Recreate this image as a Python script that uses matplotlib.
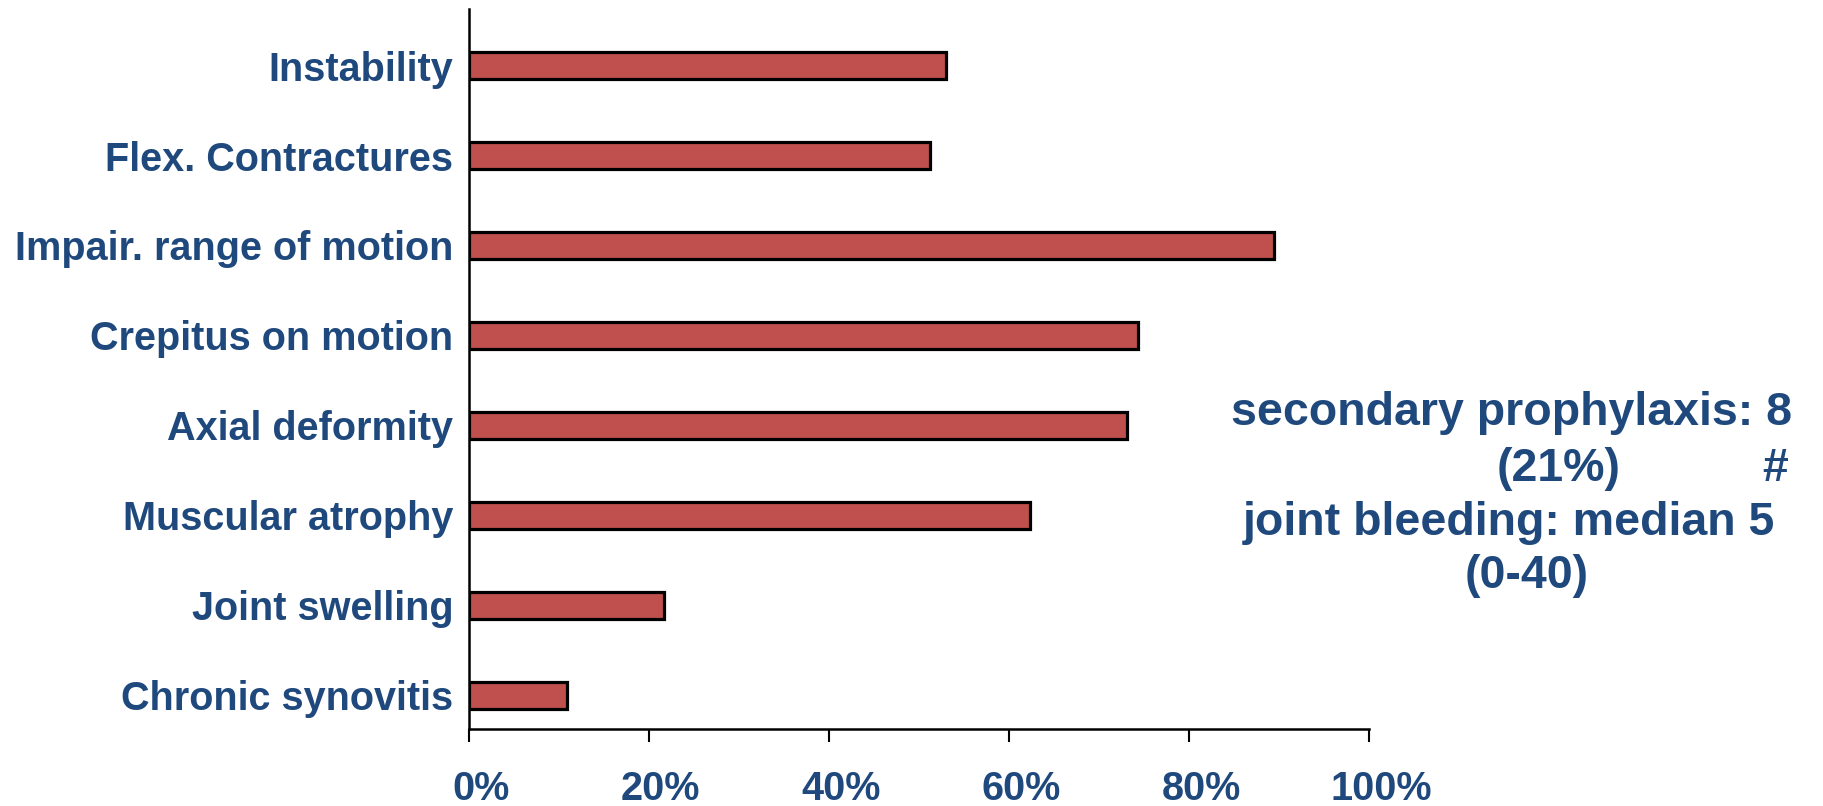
import matplotlib
matplotlib.use('Agg')
import matplotlib.pyplot as plt
import matplotlib.transforms as mtransforms
import numpy as np

# Data (bottom to top)
categories = ['Chronic synovitis', 'Joint swelling', 'Muscular atrophy',
              'Axial deformity', 'Crepitus on motion', 'Impair. range of motion',
              'Flex. Contractures', 'Instability']
values = [10.9, 21.7, 62.3, 73.1, 74.3, 89.5, 51.2, 53.0]
xticks = [0, 20, 40, 60, 80, 100]
xtick_labels = ['0%', '20%', '40%', '60%', '80%', '100%']
note_lines = ['secondary prophylaxis: 8', '(21%)', '#',
              'joint bleeding: median 5', '(0-40)']

BLUE = '#1F497D'
RED = '#C0504D'
plt.rcParams['font.family'] = ['Liberation Sans', 'DejaVu Sans']

fig = plt.figure(figsize=(18.24, 8.06), dpi=100)
ax = fig.add_axes([0.257, 0.0955, 0.4935, 0.8935])

y = np.arange(len(categories))
ax.barh(y, values, height=0.3, color=RED, edgecolor='black', linewidth=2.3)

ax.set_xlim(0, 100)
ax.set_ylim(-0.375, 7.63)
ax.set_yticks(y)
ax.set_yticklabels(categories, fontsize=28.5, fontweight='bold', color=BLUE)
ax.set_xticks(xticks)
ax.set_xticklabels(xtick_labels, fontsize=28.5, fontweight='bold', color=BLUE)
ax.tick_params(axis='y', length=0, pad=11)
ax.tick_params(axis='x', length=9.5, width=1.5, direction='out', pad=20)
# tick labels sit slightly right of their ticks in the original
offset = mtransforms.ScaledTranslation(12 / 100, 0, fig.dpi_scale_trans)
for lbl in ax.get_xticklabels():
    lbl.set_transform(lbl.get_transform() + offset)

for s in ['top', 'right']:
    ax.spines[s].set_visible(False)
ax.spines['left'].set_linewidth(1.8)
ax.spines['bottom'].set_linewidth(1.8)

# annotation block at right
kw = dict(fontsize=33.5, fontweight='bold', color=BLUE, va='center', ha='center')
fig.text(1299 / 1568, 1 - 355 / 693, note_lines[0], **kw)
fig.text(1340 / 1568, 1 - 403 / 693, note_lines[1], **kw)
fig.text(1526 / 1568, 1 - 403 / 693, note_lines[2], **kw)
fig.text(1297 / 1568, 1 - 450 / 693, note_lines[3], **kw)
fig.text(1312 / 1568, 1 - 495 / 693, note_lines[4], **kw)

fig.savefig('out.png', dpi=100)
